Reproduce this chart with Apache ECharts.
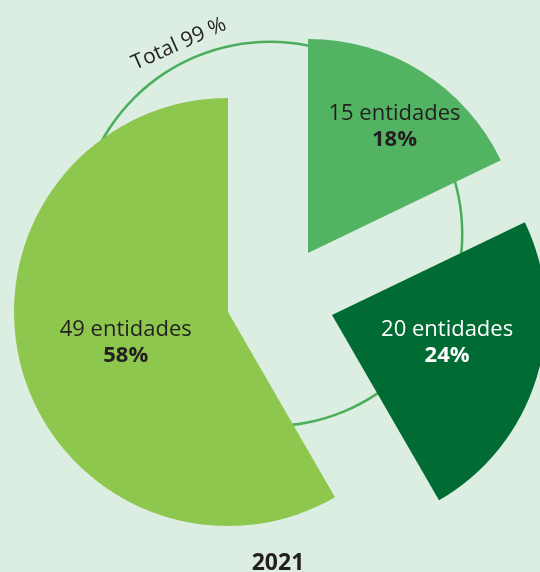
<!DOCTYPE html>
<html>
<head>
<meta charset="utf-8">
<script src="https://cdn.jsdelivr.net/npm/echarts@6/dist/echarts.min.js"></script>
<style>
  html, body { margin: 0; padding: 0; background: #dcede1; }
  #chart { width: 540px; height: 572px; }
</style>
</head>
<body>
<div id="chart"></div>
<script>
// datos
const entities = [15, 20, 49]
const percents = [18, 24, 58]
const unitLabel = 'entidades'
const totalLabel = 'Total 99 %'
const yearLabel = '2021'

// estilos
const sliceColors = ['#52b462', '#006c34', '#8dc74d']
const textColors = ['#231f20', '#ffffff', '#231f20']
const font = '"Open Sans", sans-serif'

// cada porción tiene su propio centro (gráfico "explotado")
const centers = [[308, 253], [332, 315], [228, 312]]
const labelOffsets = [[28, -33], [10, -5], [4, 2]]
const pieRadius = 214

const chart = echarts.init(document.getElementById('chart'))

const sliceSeries = entities.map((_, k) => ({
  type: 'pie',
  center: centers[k],
  radius: pieRadius,
  startAngle: 90,
  clockwise: true,
  silent: true,
  animation: false,
  z: 3,
  labelLine: { show: false },
  data: entities.map((v, j) => ({
    value: v,
    name: v + ' ' + unitLabel,
    itemStyle: { color: j === k ? sliceColors[j] : 'rgba(0,0,0,0)' },
    label: j === k ? {
      show: true,
      position: 'inside',
      offset: labelOffsets[k],
      formatter: '{a|' + v + ' ' + unitLabel + '}\n{b|' + percents[j] + '%}',
      rich: {
        a: { fontFamily: font, fontSize: 22, lineHeight: 26, color: textColors[j] },
        b: { fontFamily: font, fontSize: 22, fontWeight: 'bold', lineHeight: 26, color: textColors[j] }
      }
    } : { show: false }
  }))
}))

chart.setOption({
  backgroundColor: '#dcede1',
  series: [
    {
      // círculo de referencia
      type: 'pie',
      center: [270, 234],
      radius: [191, 193.5],
      silent: true,
      animation: false,
      z: 1,
      label: { show: false },
      labelLine: { show: false },
      itemStyle: { color: '#4aae5b' },
      data: [{ value: 1, name: 'total' }]
    },
    ...sliceSeries
  ],
  graphic: [
    {
      type: 'text',
      x: 179,
      y: 44,
      rotation: 24 * Math.PI / 180,
      style: {
        text: totalLabel,
        fontFamily: font,
        fontSize: 21,
        fill: '#231f20',
        align: 'center',
        verticalAlign: 'middle'
      }
    },
    {
      type: 'text',
      x: 278,
      y: 563,
      style: {
        text: yearLabel,
        fontFamily: font,
        fontSize: 23,
        fontWeight: 'bold',
        fill: '#231f20',
        align: 'center',
        verticalAlign: 'middle'
      }
    }
  ]
})
</script>
</body>
</html>
